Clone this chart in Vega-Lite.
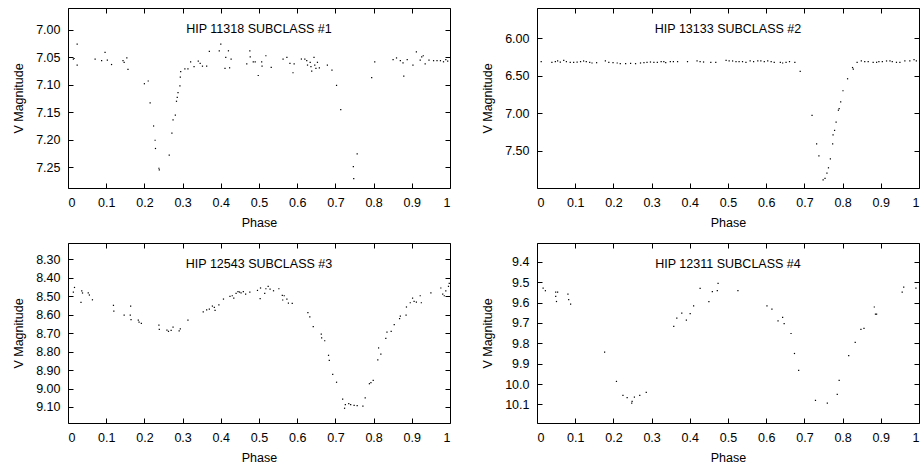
{
  "$schema": "https://vega.github.io/schema/vega-lite/v6.json",
  "background": "white",
  "padding": {"left": 12, "top": 7, "right": 0, "bottom": 0},
  "config": {
    "view": {"stroke": null},
    "font": "Liberation Sans",
    "axis": {
      "grid": false,
      "domainColor": "#000",
      "domainWidth": 1,
      "tickColor": "#000",
      "tickWidth": 1,
      "tickSize": -5,
      "labelColor": "#000",
      "titleColor": "#000",
      "labelFontSize": 12.5,
      "titleFontSize": 12.5,
      "titleFontWeight": "normal",
      "labelPadding": 13,
      "labelFont": "Liberation Sans",
      "titleFont": "Liberation Sans"
    },
    "axisX": {"titlePadding": 8},
    "axisY": {"titlePadding": 10},
    "title": {"fontSize": 12.5, "fontWeight": "normal", "font": "Liberation Sans", "color": "#000", "anchor": "middle", "frame": "group", "offset": -28}
  },
  "columns": 2,
  "spacing": {"row": 55, "column": 87},
  "bounds": "flush",
  "concat": [
    {
      "width": 382, "height": 180,
      "title": {"text": "HIP 11318 SUBCLASS #1"},
      "data": {"values": [
        {"phase":0.014,"mag":7.053},{"phase":0.016,"mag":7.052},{"phase":0.024,"mag":7.026},{"phase":0.024,"mag":7.064},
        {"phase":0.071,"mag":7.053},{"phase":0.088,"mag":7.056},{"phase":0.097,"mag":7.041},{"phase":0.103,"mag":7.055},
        {"phase":0.114,"mag":7.063},{"phase":0.144,"mag":7.056},{"phase":0.147,"mag":7.059},{"phase":0.154,"mag":7.051},
        {"phase":0.157,"mag":7.072},{"phase":0.200,"mag":7.098},{"phase":0.210,"mag":7.093},{"phase":0.215,"mag":7.133},
        {"phase":0.224,"mag":7.175},{"phase":0.228,"mag":7.201},{"phase":0.229,"mag":7.216},{"phase":0.238,"mag":7.252},
        {"phase":0.239,"mag":7.255},{"phase":0.265,"mag":7.228},{"phase":0.272,"mag":7.188},{"phase":0.275,"mag":7.164},
        {"phase":0.281,"mag":7.155},{"phase":0.284,"mag":7.130},{"phase":0.286,"mag":7.123},{"phase":0.288,"mag":7.114},
        {"phase":0.293,"mag":7.102},{"phase":0.294,"mag":7.086},{"phase":0.295,"mag":7.076},{"phase":0.306,"mag":7.071},
        {"phase":0.314,"mag":7.071},{"phase":0.321,"mag":7.058},{"phase":0.330,"mag":7.067},{"phase":0.341,"mag":7.057},
        {"phase":0.346,"mag":7.061},{"phase":0.352,"mag":7.066},{"phase":0.363,"mag":7.066},{"phase":0.370,"mag":7.039},
        {"phase":0.396,"mag":7.038},{"phase":0.400,"mag":7.026},{"phase":0.411,"mag":7.070},{"phase":0.413,"mag":7.050},
        {"phase":0.420,"mag":7.038},{"phase":0.423,"mag":7.069},{"phase":0.427,"mag":7.053},{"phase":0.468,"mag":7.062},
        {"phase":0.476,"mag":7.038},{"phase":0.477,"mag":7.049},{"phase":0.485,"mag":7.058},{"phase":0.490,"mag":7.058},
        {"phase":0.498,"mag":7.083},{"phase":0.507,"mag":7.058},{"phase":0.508,"mag":7.066},{"phase":0.518,"mag":7.047},
        {"phase":0.532,"mag":7.068},{"phase":0.563,"mag":7.053},{"phase":0.573,"mag":7.050},{"phase":0.581,"mag":7.061},
        {"phase":0.589,"mag":7.078},{"phase":0.592,"mag":7.062},{"phase":0.611,"mag":7.053},{"phase":0.620,"mag":7.053},
        {"phase":0.625,"mag":7.056},{"phase":0.627,"mag":7.064},{"phase":0.634,"mag":7.059},{"phase":0.636,"mag":7.067},
        {"phase":0.638,"mag":7.075},{"phase":0.644,"mag":7.050},{"phase":0.646,"mag":7.064},{"phase":0.649,"mag":7.070},
        {"phase":0.653,"mag":7.059},{"phase":0.658,"mag":7.069},{"phase":0.679,"mag":7.064},{"phase":0.691,"mag":7.073},
        {"phase":0.703,"mag":7.101},{"phase":0.714,"mag":7.145},{"phase":0.747,"mag":7.249},{"phase":0.748,"mag":7.271},
        {"phase":0.757,"mag":7.226},{"phase":0.795,"mag":7.087},{"phase":0.803,"mag":7.058},{"phase":0.851,"mag":7.054},
        {"phase":0.860,"mag":7.051},{"phase":0.870,"mag":7.056},{"phase":0.877,"mag":7.060},{"phase":0.879,"mag":7.084},
        {"phase":0.888,"mag":7.054},{"phase":0.903,"mag":7.064},{"phase":0.912,"mag":7.040},{"phase":0.922,"mag":7.055},
        {"phase":0.926,"mag":7.049},{"phase":0.930,"mag":7.047},{"phase":0.935,"mag":7.062},{"phase":0.945,"mag":7.055},
        {"phase":0.957,"mag":7.056},{"phase":0.966,"mag":7.056},{"phase":0.975,"mag":7.056},{"phase":0.983,"mag":7.058},
        {"phase":0.989,"mag":7.054},{"phase":0.994,"mag":7.057}
      ]},
      "layer": [
        {
          "mark": {"type": "square", "size": 1.5, "color": "#000", "opacity": 1},
          "encoding": {
            "x": {"field": "phase", "type": "quantitative", "scale": {"domain": [0, 1], "nice": false},
                  "axis": {"orient": "bottom", "title": "Phase", "values": [0,0.1,0.2,0.3,0.4,0.5,0.6,0.7,0.8,0.9,1], "format": "~g"}},
            "y": {"field": "mag", "type": "quantitative", "scale": {"domain": [6.96, 7.288], "reverse": true, "zero": false, "nice": false},
                  "axis": {"orient": "left", "title": "V Magnitude", "values": [7.0,7.05,7.1,7.15,7.2,7.25], "format": ".2f"}}
          }
        },
        {
          "mark": {"type": "square", "size": 1.5, "opacity": 0},
          "encoding": {
            "x": {"field": "phase", "type": "quantitative", "axis": {"orient": "top", "title": null, "labels": false, "values": [0,0.1,0.2,0.3,0.4,0.5,0.6,0.7,0.8,0.9,1]}},
            "y": {"field": "mag", "type": "quantitative", "axis": {"orient": "right", "title": null, "labels": false, "values": [7.0,7.05,7.1,7.15,7.2,7.25]}}
          }
        }
      ],
      "resolve": {"axis": {"x": "independent", "y": "independent"}}
    },
    {
      "width": 382, "height": 180,
      "title": {"text": "HIP 13133 SUBCLASS #2"},
      "data": {"values": [
        {"phase":0.011,"mag":6.311},{"phase":0.039,"mag":6.320},{"phase":0.048,"mag":6.311},{"phase":0.054,"mag":6.302},
        {"phase":0.061,"mag":6.316},{"phase":0.070,"mag":6.293},{"phase":0.077,"mag":6.311},{"phase":0.087,"mag":6.320},
        {"phase":0.096,"mag":6.320},{"phase":0.105,"mag":6.316},{"phase":0.114,"mag":6.311},{"phase":0.122,"mag":6.302},
        {"phase":0.129,"mag":6.311},{"phase":0.138,"mag":6.320},{"phase":0.144,"mag":6.329},{"phase":0.156,"mag":6.325},
        {"phase":0.179,"mag":6.302},{"phase":0.188,"mag":6.320},{"phase":0.199,"mag":6.325},{"phase":0.210,"mag":6.329},
        {"phase":0.218,"mag":6.338},{"phase":0.232,"mag":6.338},{"phase":0.245,"mag":6.334},{"phase":0.258,"mag":6.338},
        {"phase":0.271,"mag":6.329},{"phase":0.280,"mag":6.325},{"phase":0.288,"mag":6.320},{"phase":0.297,"mag":6.316},
        {"phase":0.306,"mag":6.320},{"phase":0.315,"mag":6.320},{"phase":0.325,"mag":6.311},{"phase":0.332,"mag":6.311},
        {"phase":0.337,"mag":6.325},{"phase":0.349,"mag":6.311},{"phase":0.357,"mag":6.311},{"phase":0.368,"mag":6.311},
        {"phase":0.394,"mag":6.311},{"phase":0.419,"mag":6.302},{"phase":0.427,"mag":6.311},{"phase":0.436,"mag":6.316},
        {"phase":0.455,"mag":6.320},{"phase":0.468,"mag":6.320},{"phase":0.495,"mag":6.293},{"phase":0.503,"mag":6.302},
        {"phase":0.512,"mag":6.302},{"phase":0.521,"mag":6.311},{"phase":0.529,"mag":6.311},{"phase":0.538,"mag":6.311},
        {"phase":0.547,"mag":6.320},{"phase":0.558,"mag":6.302},{"phase":0.567,"mag":6.311},{"phase":0.578,"mag":6.302},
        {"phase":0.586,"mag":6.302},{"phase":0.595,"mag":6.311},{"phase":0.604,"mag":6.302},{"phase":0.613,"mag":6.311},
        {"phase":0.621,"mag":6.320},{"phase":0.637,"mag":6.320},{"phase":0.643,"mag":6.329},{"phase":0.652,"mag":6.320},
        {"phase":0.661,"mag":6.311},{"phase":0.675,"mag":6.320},{"phase":0.689,"mag":6.44},{"phase":0.720,"mag":7.03},
        {"phase":0.732,"mag":7.41},{"phase":0.738,"mag":7.57},{"phase":0.749,"mag":7.89},{"phase":0.754,"mag":7.87},
        {"phase":0.759,"mag":7.80},{"phase":0.763,"mag":7.73},{"phase":0.768,"mag":7.61},{"phase":0.774,"mag":7.41},
        {"phase":0.775,"mag":7.29},{"phase":0.779,"mag":7.23},{"phase":0.783,"mag":7.12},{"phase":0.789,"mag":6.96},
        {"phase":0.791,"mag":6.94},{"phase":0.795,"mag":6.85},{"phase":0.801,"mag":6.70},{"phase":0.813,"mag":6.54},
        {"phase":0.826,"mag":6.39},{"phase":0.828,"mag":6.41},{"phase":0.838,"mag":6.32},{"phase":0.849,"mag":6.302},
        {"phase":0.858,"mag":6.311},{"phase":0.867,"mag":6.311},{"phase":0.880,"mag":6.320},{"phase":0.889,"mag":6.320},
        {"phase":0.895,"mag":6.311},{"phase":0.904,"mag":6.311},{"phase":0.915,"mag":6.302},{"phase":0.924,"mag":6.302},
        {"phase":0.930,"mag":6.311},{"phase":0.941,"mag":6.320},{"phase":0.950,"mag":6.320},{"phase":0.963,"mag":6.302},
        {"phase":0.976,"mag":6.302},{"phase":0.987,"mag":6.284},{"phase":0.993,"mag":6.302}
      ]},
      "layer": [
        {
          "mark": {"type": "square", "size": 1.5, "color": "#000", "opacity": 1},
          "encoding": {
            "x": {"field": "phase", "type": "quantitative", "scale": {"domain": [0, 1], "nice": false},
                  "axis": {"orient": "bottom", "title": "Phase", "values": [0,0.1,0.2,0.3,0.4,0.5,0.6,0.7,0.8,0.9,1], "format": "~g"}},
            "y": {"field": "mag", "type": "quantitative", "scale": {"domain": [5.594, 8.0], "reverse": true, "zero": false, "nice": false},
                  "axis": {"orient": "left", "title": "V Magnitude", "values": [6.0,6.5,7.0,7.5], "format": ".2f"}}
          }
        },
        {
          "mark": {"type": "square", "size": 1.5, "opacity": 0},
          "encoding": {
            "x": {"field": "phase", "type": "quantitative", "axis": {"orient": "top", "title": null, "labels": false, "values": [0,0.1,0.2,0.3,0.4,0.5,0.6,0.7,0.8,0.9,1]}},
            "y": {"field": "mag", "type": "quantitative", "axis": {"orient": "right", "title": null, "labels": false, "values": [6.0,6.5,7.0,7.5]}}
          }
        }
      ],
      "resolve": {"axis": {"x": "independent", "y": "independent"}}
    },
    {
      "width": 382, "height": 180,
      "title": {"text": "HIP 12543 SUBCLASS #3"},
      "data": {"values": [
        {"phase":0.014,"mag":8.477},{"phase":0.017,"mag":8.452},{"phase":0.034,"mag":8.533},{"phase":0.036,"mag":8.470},
        {"phase":0.038,"mag":8.482},{"phase":0.053,"mag":8.482},{"phase":0.056,"mag":8.493},{"phase":0.064,"mag":8.519},
        {"phase":0.119,"mag":8.549},{"phase":0.120,"mag":8.580},{"phase":0.147,"mag":8.602},{"phase":0.163,"mag":8.602},
        {"phase":0.164,"mag":8.553},{"phase":0.165,"mag":8.627},{"phase":0.184,"mag":8.629},{"phase":0.186,"mag":8.640},
        {"phase":0.192,"mag":8.647},{"phase":0.238,"mag":8.656},{"phase":0.239,"mag":8.679},{"phase":0.259,"mag":8.683},
        {"phase":0.263,"mag":8.690},{"phase":0.270,"mag":8.685},{"phase":0.275,"mag":8.667},{"phase":0.291,"mag":8.688},
        {"phase":0.294,"mag":8.677},{"phase":0.314,"mag":8.629},{"phase":0.354,"mag":8.585},{"phase":0.363,"mag":8.574},
        {"phase":0.370,"mag":8.569},{"phase":0.378,"mag":8.553},{"phase":0.383,"mag":8.560},{"phase":0.385,"mag":8.576},
        {"phase":0.395,"mag":8.546},{"phase":0.407,"mag":8.515},{"phase":0.424,"mag":8.500},{"phase":0.430,"mag":8.497},
        {"phase":0.434,"mag":8.510},{"phase":0.440,"mag":8.484},{"phase":0.445,"mag":8.475},{"phase":0.449,"mag":8.477},
        {"phase":0.453,"mag":8.482},{"phase":0.459,"mag":8.475},{"phase":0.465,"mag":8.488},{"phase":0.476,"mag":8.477},
        {"phase":0.496,"mag":8.468},{"phase":0.503,"mag":8.513},{"phase":0.504,"mag":8.455},{"phase":0.515,"mag":8.484},
        {"phase":0.518,"mag":8.459},{"phase":0.524,"mag":8.446},{"phase":0.529,"mag":8.461},{"phase":0.538,"mag":8.470},
        {"phase":0.552,"mag":8.459},{"phase":0.561,"mag":8.495},{"phase":0.562,"mag":8.520},{"phase":0.566,"mag":8.497},
        {"phase":0.573,"mag":8.515},{"phase":0.577,"mag":8.537},{"phase":0.587,"mag":8.538},{"phase":0.628,"mag":8.589},
        {"phase":0.633,"mag":8.611},{"phase":0.642,"mag":8.665},{"phase":0.663,"mag":8.705},{"phase":0.664,"mag":8.726},
        {"phase":0.672,"mag":8.741},{"phase":0.682,"mag":8.820},{"phase":0.684,"mag":8.847},{"phase":0.693,"mag":8.923},
        {"phase":0.703,"mag":8.966},{"phase":0.719,"mag":9.057},{"phase":0.724,"mag":9.107},{"phase":0.726,"mag":9.087},
        {"phase":0.735,"mag":9.082},{"phase":0.740,"mag":9.087},{"phase":0.749,"mag":9.091},{"phase":0.757,"mag":9.093},
        {"phase":0.772,"mag":9.096},{"phase":0.778,"mag":9.051},{"phase":0.789,"mag":8.974},{"phase":0.793,"mag":8.968},
        {"phase":0.799,"mag":8.956},{"phase":0.811,"mag":8.845},{"phase":0.813,"mag":8.780},{"phase":0.819,"mag":8.813},
        {"phase":0.832,"mag":8.728},{"phase":0.835,"mag":8.694},{"phase":0.846,"mag":8.690},{"phase":0.854,"mag":8.654},
        {"phase":0.868,"mag":8.621},{"phase":0.870,"mag":8.607},{"phase":0.885,"mag":8.602},{"phase":0.886,"mag":8.558},
        {"phase":0.896,"mag":8.535},{"phase":0.902,"mag":8.510},{"phase":0.906,"mag":8.528},{"phase":0.912,"mag":8.531},
        {"phase":0.922,"mag":8.497},{"phase":0.925,"mag":8.535},{"phase":0.950,"mag":8.482},{"phase":0.976,"mag":8.455},
        {"phase":0.981,"mag":8.488},{"phase":0.985,"mag":8.497},{"phase":0.989,"mag":8.470},{"phase":0.996,"mag":8.446},
        {"phase":0.998,"mag":8.430}
      ]},
      "layer": [
        {
          "mark": {"type": "square", "size": 1.5, "color": "#000", "opacity": 1},
          "encoding": {
            "x": {"field": "phase", "type": "quantitative", "scale": {"domain": [0, 1], "nice": false},
                  "axis": {"orient": "bottom", "title": "Phase", "values": [0,0.1,0.2,0.3,0.4,0.5,0.6,0.7,0.8,0.9,1], "format": "~g"}},
            "y": {"field": "mag", "type": "quantitative", "scale": {"domain": [8.211, 9.187], "reverse": true, "zero": false, "nice": false},
                  "axis": {"orient": "left", "title": "V Magnitude", "values": [8.3,8.4,8.5,8.6,8.7,8.8,8.9,9.0,9.1], "format": ".2f"}}
          }
        },
        {
          "mark": {"type": "square", "size": 1.5, "opacity": 0},
          "encoding": {
            "x": {"field": "phase", "type": "quantitative", "axis": {"orient": "top", "title": null, "labels": false, "values": [0,0.1,0.2,0.3,0.4,0.5,0.6,0.7,0.8,0.9,1]}},
            "y": {"field": "mag", "type": "quantitative", "axis": {"orient": "right", "title": null, "labels": false, "values": [8.3,8.4,8.5,8.6,8.7,8.8,8.9,9.0,9.1]}}
          }
        }
      ],
      "resolve": {"axis": {"x": "independent", "y": "independent"}}
    },
    {
      "width": 382, "height": 180,
      "title": {"text": "HIP 12311 SUBCLASS #4"},
      "data": {"values": [
        {"phase":0.016,"mag":9.529},{"phase":0.022,"mag":9.542},{"phase":0.049,"mag":9.549},{"phase":0.054,"mag":9.549},
        {"phase":0.049,"mag":9.570},{"phase":0.051,"mag":9.595},{"phase":0.081,"mag":9.559},{"phase":0.083,"mag":9.586},
        {"phase":0.088,"mag":9.608},{"phase":0.177,"mag":9.843},{"phase":0.208,"mag":9.987},{"phase":0.225,"mag":10.056},
        {"phase":0.236,"mag":10.066},{"phase":0.248,"mag":10.094},{"phase":0.249,"mag":10.085},{"phase":0.255,"mag":10.064},
        {"phase":0.269,"mag":10.056},{"phase":0.286,"mag":10.041},{"phase":0.358,"mag":9.717},{"phase":0.366,"mag":9.676},
        {"phase":0.379,"mag":9.652},{"phase":0.391,"mag":9.686},{"phase":0.401,"mag":9.655},{"phase":0.410,"mag":9.616},
        {"phase":0.427,"mag":9.531},{"phase":0.450,"mag":9.596},{"phase":0.459,"mag":9.546},{"phase":0.472,"mag":9.542},
        {"phase":0.474,"mag":9.506},{"phase":0.526,"mag":9.542},{"phase":0.602,"mag":9.616},{"phase":0.615,"mag":9.632},
        {"phase":0.631,"mag":9.690},{"phase":0.643,"mag":9.673},{"phase":0.647,"mag":9.703},{"phase":0.665,"mag":9.752},
        {"phase":0.674,"mag":9.850},{"phase":0.685,"mag":9.933},{"phase":0.729,"mag":10.080},{"phase":0.760,"mag":10.093},
        {"phase":0.786,"mag":10.051},{"phase":0.791,"mag":9.982},{"phase":0.816,"mag":9.861},{"phase":0.833,"mag":9.796},
        {"phase":0.848,"mag":9.732},{"phase":0.856,"mag":9.727},{"phase":0.883,"mag":9.622},{"phase":0.886,"mag":9.657},
        {"phase":0.889,"mag":9.657},{"phase":0.956,"mag":9.549},{"phase":0.960,"mag":9.524},{"phase":0.992,"mag":9.529}
      ]},
      "layer": [
        {
          "mark": {"type": "square", "size": 1.5, "color": "#000", "opacity": 1},
          "encoding": {
            "x": {"field": "phase", "type": "quantitative", "scale": {"domain": [0, 1], "nice": false},
                  "axis": {"orient": "bottom", "title": "Phase", "values": [0,0.1,0.2,0.3,0.4,0.5,0.6,0.7,0.8,0.9,1], "format": "~g"}},
            "y": {"field": "mag", "type": "quantitative", "scale": {"domain": [9.308, 10.191], "reverse": true, "zero": false, "nice": false},
                  "axis": {"orient": "left", "title": "V Magnitude", "values": [9.4,9.5,9.6,9.7,9.8,9.9,10.0,10.1], "format": ".1f"}}
          }
        },
        {
          "mark": {"type": "square", "size": 1.5, "opacity": 0},
          "encoding": {
            "x": {"field": "phase", "type": "quantitative", "axis": {"orient": "top", "title": null, "labels": false, "values": [0,0.1,0.2,0.3,0.4,0.5,0.6,0.7,0.8,0.9,1]}},
            "y": {"field": "mag", "type": "quantitative", "axis": {"orient": "right", "title": null, "labels": false, "values": [9.4,9.5,9.6,9.7,9.8,9.9,10.0,10.1]}}
          }
        }
      ],
      "resolve": {"axis": {"x": "independent", "y": "independent"}}
    }
  ]
}
